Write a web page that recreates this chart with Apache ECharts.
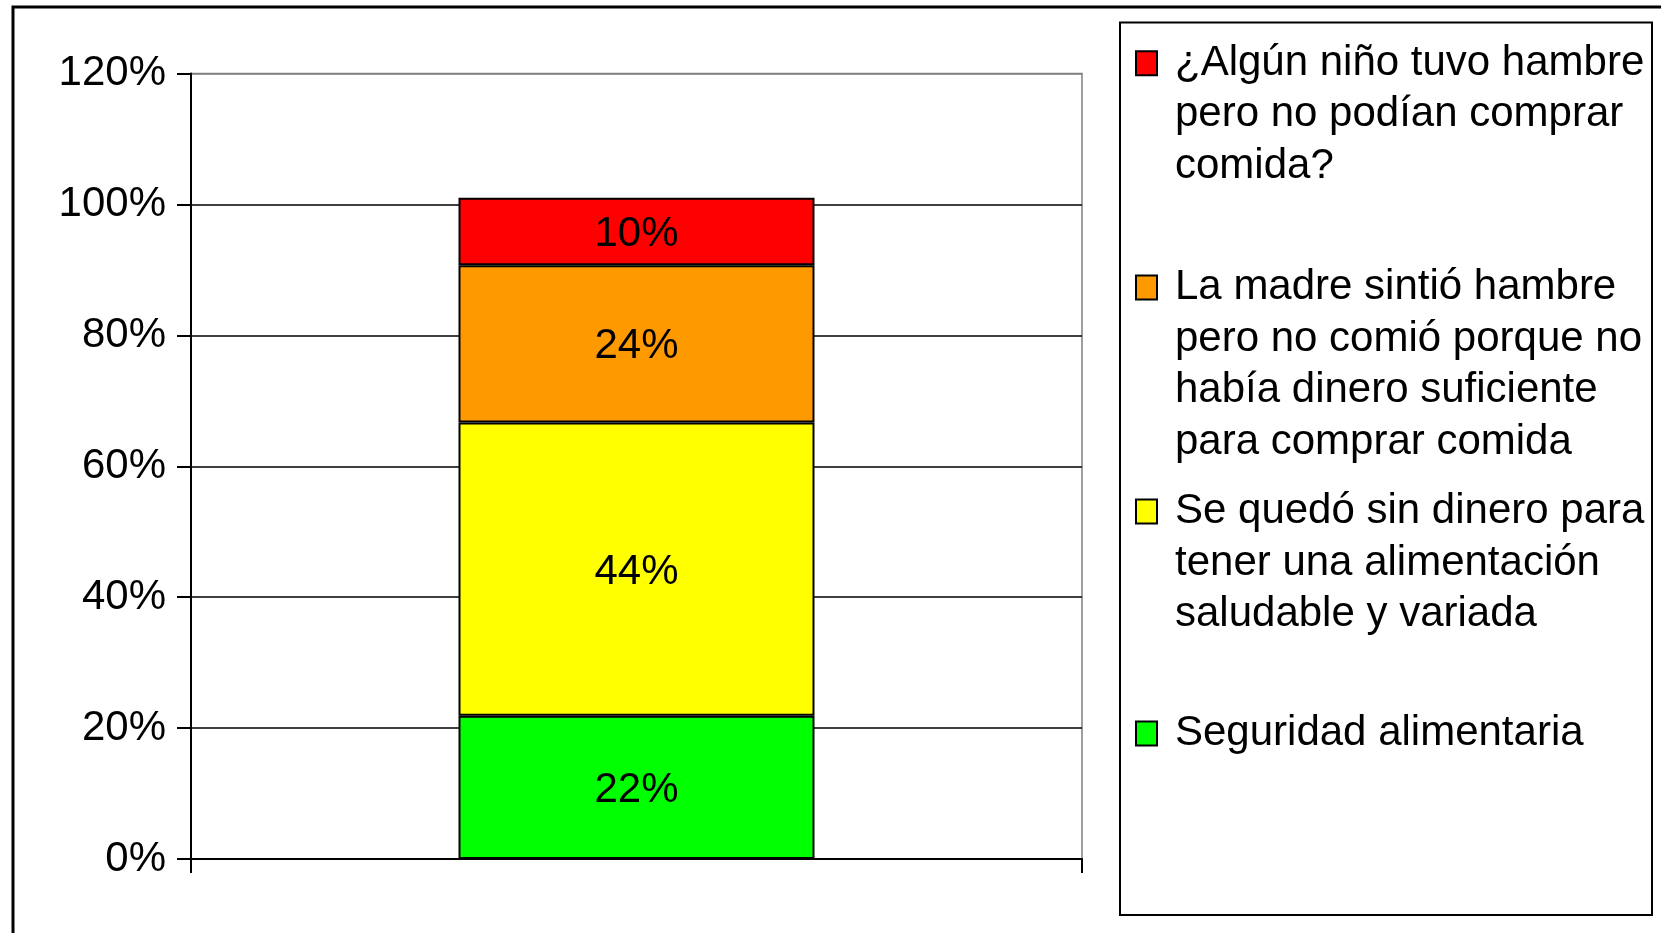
<!DOCTYPE html>
<html>
<head>
<meta charset="utf-8">
<script src="https://cdn.jsdelivr.net/npm/echarts@6/dist/echarts.min.js"></script>
<style>html,body{margin:0;padding:0;background:#fff}#c{width:1661px;height:933px}</style>
</head>
<body>
<div id="c"></div>
<script>
// ---- data ----
const categories = [''];
const seriesNames = [
  'Seguridad alimentaria',
  'Se quedó sin dinero para\ntener una alimentación\nsaludable y variada',
  'La madre sintió hambre\npero no comió porque no\nhabía dinero suficiente\npara comprar comida',
  '¿Algún niño tuvo hambre\npero no podían comprar\ncomida?'
];
const seriesValues = [21.9, 44.8, 24.0, 10.3];   // bottom to top, as drawn
const labelValues = [22, 44, 24, 10];            // printed labels
const seriesColors = ['#00FF00', '#FFFF00', '#FF9900', '#FF0000'];
const yTickValues = [0, 20, 40, 60, 80, 100, 120];
const legendOrder = [3, 2, 1, 0];

// ---- layout ----
const FONT = '"Liberation Sans", Arial, sans-serif';
const FS = 42;
const LH = 51.5;
const legendFirstLineCenters = [58.7, 283, 507, 729];

const chart = echarts.init(document.getElementById('c'), null, {renderer: 'canvas'});

const series = seriesNames.map((name, i) => ({
  name: name,
  type: 'bar',
  stack: 'total',
  barWidth: 356,
  data: [seriesValues[i]],
  itemStyle: {color: seriesColors[i], borderColor: '#000', borderWidth: 2},
  label: {
    show: true, position: 'inside', color: '#000',
    fontFamily: FONT, fontSize: FS, offset: [0, 3],
    formatter: () => labelValues[i] + '%'
  },
  emphasis: {disabled: true}
}));

const legends = legendOrder.map((si, k) => {
  const name = seriesNames[si];
  const n = name.split('\n').length;
  const blockH = (2 * n - 1) * LH;
  return {
    data: [name],
    orient: 'vertical',
    left: 1135,
    top: legendFirstLineCenters[k] - blockH / 2,
    padding: 0,
    icon: 'rect',
    itemWidth: 21,
    itemHeight: 24,
    selectedMode: false,
    itemStyle: {borderColor: '#000', borderWidth: 2},
    formatter: nm => '\n'.repeat(n - 1) + nm,
    textStyle: {fontFamily: FONT, fontSize: FS, lineHeight: LH, color: '#000', padding: [9, 0, 0, 13]}
  };
});

chart.setOption({
  animation: false,
  backgroundColor: '#fff',
  grid: {
    left: 191, right: 579, top: 73.5, bottom: 74,
    show: true, borderColor: '#808080', borderWidth: 1.5, backgroundColor: 'transparent'
  },
  legend: legends,
  xAxis: {
    type: 'category',
    data: categories,
    axisLine: {lineStyle: {color: '#000', width: 2}},
    axisTick: {show: true, length: 14, lineStyle: {color: '#000', width: 2}},
    axisLabel: {show: false}
  },
  yAxis: {
    type: 'value',
    min: yTickValues[0],
    max: yTickValues[yTickValues.length - 1],
    interval: yTickValues[1] - yTickValues[0],
    axisLine: {show: true, lineStyle: {color: '#000', width: 2}},
    axisTick: {show: true, length: 14, lineStyle: {color: '#000', width: 2}},
    axisLabel: {
      margin: 25, color: '#000', fontFamily: FONT, fontSize: FS, padding: [5, 0, 0, 0],
      formatter: v => v + '%'
    },
    splitLine: {show: true, lineStyle: {color: ['#000', '#000', '#000', '#000', '#000', '#000', '#808080'], width: 1.5}}
  },
  series: series,
  graphic: [
    {type: 'rect', shape: {x: 13, y: 7, width: 2000, height: 2000}, style: {fill: 'none', stroke: '#000', lineWidth: 3}, silent: true},
    {type: 'rect', shape: {x: 1120, y: 22.5, width: 532, height: 892.5}, style: {fill: 'none', stroke: '#000', lineWidth: 2}, silent: true, z: -1}
  ]
});
</script>
</body>
</html>
